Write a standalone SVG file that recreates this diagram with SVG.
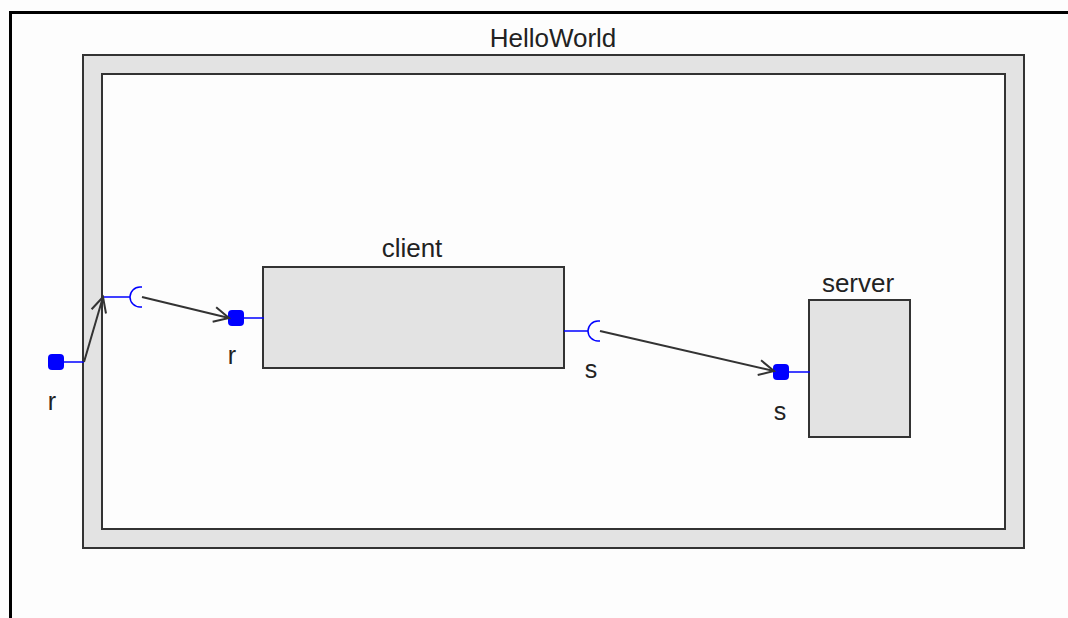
<svg xmlns="http://www.w3.org/2000/svg" width="1068" height="618" viewBox="0 0 1068 618">
  <style>
    .txt { font-family: "Liberation Sans", Arial, sans-serif; font-size: 26px; fill: #222; }
    .lbl { font-family: "Liberation Sans", Arial, sans-serif; font-size: 25px; fill: #222; }
    .box { fill: #e3e3e3; stroke: #333; stroke-width: 2; }
    .port { fill: #0000ff; }
    .wire { stroke: #0000ff; stroke-width: 1.5; fill: none; }
    .conn { stroke: #333; stroke-width: 2; fill: none; marker-end: url(#open); }
  </style>
  <defs>
    <marker id="open" markerUnits="userSpaceOnUse" markerWidth="30" markerHeight="30" refX="0" refY="0" orient="auto" overflow="visible">
      <path d="M-15,-7.5 L0,0 L-15,7.5" fill="none" stroke="#333" stroke-width="2"/>
    </marker>
  </defs>

  <rect x="0" y="0" width="1068" height="618" fill="#fdfdfd"/>
  <!-- page frame -->
  <path d="M10.5,618 V12.5 H1068" fill="none" stroke="#000" stroke-width="3"/>

  <g id="HelloWorld">
    <rect x="83" y="55" width="941" height="493" class="box"/>
    <rect x="102" y="74" width="903" height="455" fill="#fdfdfd" stroke="#333" stroke-width="2"/>
    <text x="553" y="47" text-anchor="middle" class="txt">HelloWorld</text>
  </g>

  <g id="port-r-outer">
    <rect x="48" y="354" width="16" height="16" rx="4" class="port"/>
    <line x1="63" y1="362" x2="84" y2="362" class="wire"/>
    <text x="52" y="410" text-anchor="middle" class="lbl">r</text>
  </g>

  <g id="socket-r-inner">
    <line x1="103" y1="297" x2="130" y2="297" class="wire"/>
    <path d="M142,287 H140 A10,10 0 0 0 140,307 H142" class="wire"/>
  </g>

  <g id="client">
    <rect x="263" y="267" width="301" height="101" class="box"/>
    <text x="412" y="257" text-anchor="middle" class="txt">client</text>
    <rect x="228" y="310" width="16" height="16" rx="4" class="port"/>
    <line x1="243" y1="318" x2="264" y2="318" class="wire"/>
    <text x="232" y="364" text-anchor="middle" class="lbl">r</text>
    <line x1="564" y1="331" x2="588" y2="331" class="wire"/>
    <path d="M600,321 H598 A10,10 0 0 0 598,341 H600" class="wire"/>
    <text x="591" y="378" text-anchor="middle" class="lbl">s</text>
  </g>

  <g id="server">
    <rect x="809" y="300" width="101" height="137" class="box"/>
    <text x="858" y="292" text-anchor="middle" class="txt">server</text>
    <rect x="773" y="364" width="16" height="16" rx="4" class="port"/>
    <line x1="789" y1="372" x2="810" y2="372" class="wire"/>
    <text x="780" y="420" text-anchor="middle" class="lbl">s</text>
  </g>

  <g id="connectors">
    <line x1="84" y1="362" x2="103" y2="297" class="conn"/>
    <line x1="142" y1="297" x2="229" y2="318" class="conn"/>
    <line x1="600" y1="331" x2="774" y2="371" class="conn"/>
  </g>
</svg>
